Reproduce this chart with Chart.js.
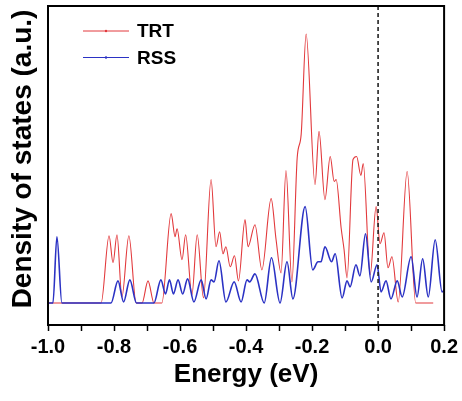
<!DOCTYPE html>
<html lang="en">
<head>
    <meta charset="UTF-8">
    <title>Density of states</title>
    <script src="https://cdn.jsdelivr.net/npm/chart.js"></script>
    <style>
        body{margin:0;background:#fff;}
        canvas{display:block;}
    </style>
</head>
<body>
    <canvas id="dos" width="462" height="401"></canvas>
    <script>
        // energies (eV) and DOS values (a.u.)
        const trtEnergy=[-1.000,-0.839,-0.815,-0.803,-0.791,-0.776,-0.755,-0.733,-0.715,-0.697,-0.679,-0.655,-0.627,-0.615,-0.609,-0.594,-0.583,-0.564,-0.548,-0.529,-0.506,-0.491,-0.480,-0.470,-0.461,-0.448,-0.435,-0.423,-0.403,-0.394,-0.373,-0.352,-0.324,-0.309,-0.294,-0.279,-0.261,-0.245,-0.233,-0.218,-0.191,-0.179,-0.161,-0.145,-0.133,-0.127,-0.112,-0.103,-0.094,-0.076,-0.065,-0.052,-0.045,-0.024,-0.006,0.006,0.018,0.030,0.042,0.061,0.088,0.114,0.167];
        const trtDos=[0,0,6.7,4.0,6.8,0.6,6.7,0,0,2.2,0,0,8.9,6.6,7.4,4.3,6.8,0.8,6.8,0.5,12.3,5.6,7.1,4.9,5.6,3.6,4.7,2.2,8.3,5.6,7.8,3.3,10.4,6.3,3.0,13.2,2.1,14.5,16.8,26.8,11.8,17.1,10.3,14.6,12.1,12.3,7.5,5.3,2.5,14.3,14.6,12.7,13.9,2.8,9.6,5.9,7.0,3.5,4.6,0.1,13.1,0,0];

        const rssEnergy=[-1.000,-0.985,-0.973,-0.958,-0.809,-0.788,-0.771,-0.752,-0.732,-0.679,-0.658,-0.644,-0.632,-0.620,-0.606,-0.592,-0.577,-0.558,-0.536,-0.521,-0.506,-0.497,-0.482,-0.461,-0.436,-0.415,-0.397,-0.389,-0.373,-0.345,-0.323,-0.297,-0.276,-0.258,-0.221,-0.198,-0.182,-0.173,-0.161,-0.141,-0.130,-0.109,-0.094,-0.085,-0.067,-0.055,-0.038,-0.021,-0.003,0.009,0.024,0.039,0.058,0.073,0.100,0.118,0.135,0.152,0.173,0.194,0.200];
        const rssDos=[0,0,6.6,0,0,2.2,0.1,2.3,0,0,2.3,0.9,2.3,0.9,2.3,0.9,2.4,0.1,2.3,0.4,2.3,2.1,4.2,0.1,2.1,0.1,2.3,2.1,2.9,0,4.5,0,4.1,0.4,9.6,3.3,4.1,4.1,5.6,4.1,4.9,0.5,2.2,1.6,3.8,2.7,6.9,2.1,3.8,1.1,2.2,0.4,2.2,0.6,4.6,0.6,4.4,0.6,6.3,1.1,1.3];

        const seriesNames=['TRT','RSS'];
        const seriesColors=['#e2393c','#2b32c4'];
        const xTicks=[-1.0,-0.8,-0.6,-0.4,-0.2,0.0,0.2];
        const fermiLevel=0.0;

        Chart.defaults.font.family="'Liberation Sans', Arial, sans-serif";
        Chart.defaults.color='#000';

        const toPoints=(xs,ys)=>xs.map((x,i)=>({x:x,y:ys[i]}));

        // frame, fermi line, legend and y title
        const extras={
            id:'extras',
            afterDatasetsDraw(chart){
                const {ctx,chartArea:a,scales}=chart;
                ctx.save();
                const xf=scales.x.getPixelForValue(fermiLevel);
                ctx.strokeStyle='#222';
                ctx.lineWidth=1.6;
                ctx.setLineDash([4,3]);
                ctx.beginPath();
                ctx.moveTo(xf,a.top);
                ctx.lineTo(xf,a.bottom);
                ctx.stroke();
                ctx.setLineDash([]);

                ctx.strokeStyle='#000';
                ctx.lineWidth=2;
                ctx.strokeRect(a.left,a.top,a.right-a.left,a.bottom-a.top);

                seriesNames.forEach((name,i)=>{
                    const y=a.top+25+i*26.5;
                    const x0=a.left+35;
                    ctx.strokeStyle=seriesColors[i];
                    ctx.lineWidth=1;
                    ctx.beginPath();
                    ctx.moveTo(x0,y);
                    ctx.lineTo(x0+46,y);
                    ctx.stroke();
                    ctx.fillStyle=seriesColors[i];
                    ctx.beginPath();
                    ctx.arc(x0+23,y,1.2,0,Math.PI*2);
                    ctx.fill();
                    ctx.fillStyle='#000';
                    ctx.font="bold 19px 'Liberation Sans', Arial, sans-serif";
                    ctx.textBaseline='middle';
                    ctx.textAlign='left';
                    ctx.fillText(name,x0+54,y+1);
                });

                ctx.translate(23,159);
                ctx.rotate(-Math.PI/2);
                ctx.font="bold 28px 'Liberation Sans', Arial, sans-serif";
                ctx.textAlign='center';
                ctx.textBaseline='middle';
                ctx.fillText('Density of states (a.u.)',0,0);
                ctx.restore();
            }
        };

        new Chart(document.getElementById('dos'),{
            type:'line',
            data:{
                datasets:[
                    {
                        label:seriesNames[0],
                        data:toPoints(trtEnergy,trtDos),
                        borderColor:seriesColors[0],
                        borderWidth:1.1,
                        pointRadius:0,
                        cubicInterpolationMode:'monotone',
                        order:1
                    },
                    {
                        label:seriesNames[1],
                        data:toPoints(rssEnergy,rssDos),
                        borderColor:seriesColors[1],
                        borderWidth:1.6,
                        pointRadius:0,
                        cubicInterpolationMode:'monotone',
                        order:0
                    }
                ]
            },
            options:{
                responsive:false,
                animation:false,
                layout:{padding:{top:6,right:17,left:0,bottom:0}},
                plugins:{legend:{display:false},tooltip:{enabled:false}},
                scales:{
                    x:{
                        type:'linear',
                        min:-1.0,
                        max:0.2,
                        afterFit(scale){scale.height=76;},
                        afterBuildTicks(scale){
                            const t=[];
                            for(let k=-10;k<=2;k++){t.push({value:k/10});}
                            scale.ticks=t;
                        },
                        ticks:{
                            autoSkip:false,
                            maxRotation:0,
                            padding:4,
                            font:{size:20,weight:'bold'},
                            callback(v){
                                const hit=xTicks.find(t=>Math.abs(t-v)<1e-6);
                                return hit===undefined?'':hit.toFixed(1);
                            }
                        },
                        grid:{display:true,drawOnChartArea:false,drawTicks:true,tickLength:6,tickColor:'#000',tickWidth:1.5},
                        border:{display:false},
                        title:{display:true,text:'Energy (eV)',font:{size:26,weight:'bold'},padding:{top:0,bottom:11}}
                    },
                    y:{
                        min:-2.2,
                        max:29.6,
                        afterFit(scale){scale.width=48;},
                        ticks:{display:false},
                        grid:{display:false},
                        border:{display:false}
                    }
                }
            },
            plugins:[extras]
        });
    </script>
</body>
</html>
